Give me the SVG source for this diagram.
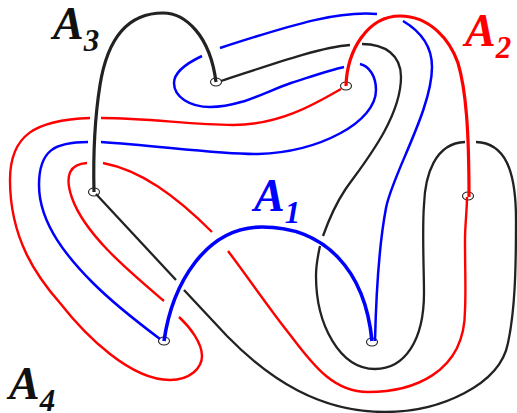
<svg xmlns="http://www.w3.org/2000/svg" width="517" height="413" viewBox="0 0 517 413">
<style>
.n{fill:#fff;stroke:#222;stroke-width:1.1}
path{fill:none;stroke-linecap:butt}
.k{stroke:#222;stroke-width:2.3}.r{stroke:#f00;stroke-width:2.4}.b{stroke:#00f;stroke-width:2.5}
.K{stroke:#222;stroke-width:3.2}.R{stroke:#f00;stroke-width:3.2}.B{stroke:#00f;stroke-width:3.6}
text{font-family:"Liberation Serif","Times New Roman",serif;font-style:italic;font-weight:700;font-size:46px}
tspan{font-size:31px}
.t{fill:#111}.u{fill:#f00}.v{fill:#00f}
</style>
<rect width="517" height="413" fill="#fff"/>
<g id="node-1"><ellipse class="n" cx="216" cy="82" rx="5.5" ry="4"/></g>
<g id="node-2"><ellipse class="n" cx="346" cy="86" rx="5.5" ry="4"/></g>
<g id="node-3"><ellipse class="n" cx="94" cy="192" rx="5.5" ry="4"/></g>
<g id="node-4"><ellipse class="n" cx="468" cy="196" rx="5.5" ry="4"/></g>
<g id="node-5"><ellipse class="n" cx="164" cy="341" rx="5.5" ry="4"/></g>
<g id="node-6"><ellipse class="n" cx="372" cy="342" rx="5.5" ry="4"/></g>
<g id="connectors">
<path class="b" d="M375 341C376 300 378 250 386 208C392 175 432 110 432 67C432 45 420 31 403 21"/>
<path class="b" d="M377 14C340 11 300 22 220 48"/>
<path class="b" d="M202 56C185 64 174 73 174 83C174 97 190 107 210 107C240 107 265 92 291 83C310 77 330 70 344 67"/>
<path class="b" d="M360 64C369 66 376 76 376 90C376 122 320 152 258 154C225 155 160 146 101 142"/>
<path class="b" d="M88 142C55 142 39 150 39 185C39 225 70 260 93 283C115 305 140 324 160 339"/>
<path class="r" d="M341 89C315 104 280 125 233 125C190 125 150 118 101 118"/>
<path class="r" d="M90 118C35 120 10 135 10 180C10 240 38 278 60 303C85 335 130 380 170 380C190 380 202 368 202 356C202 343 190 327 179 317"/>
<path class="r" d="M164 301C130 272 85 235 72 198C64 175 70 164 87 163"/>
<path class="r" d="M103 163C140 170 175 195 212 232"/>
<path class="r" d="M228 251C250 280 270 310 291 336C315 368 335 392 368 392C410 392 465 375 465 310C466 290 465 270 465 240C465 225 467 210 467 197"/>
<path class="k" d="M96 194L176 280"/>
<path class="k" d="M184 290L227 336C270 380 320 412 385 412C440 412 500 385 508 343C515 310 516 270 516 220C516 170 505 143 476 142"/>
<path class="k" d="M465 142C435 143 425 175 424 205C422 230 424 270 424 293C424 340 405 369 375 369C340 369 316 325 316 276C316 265 318 255 320 246"/>
<path class="k" d="M323 236C328 222 335 205 345 190C360 168 401 120 401 77C401 55 385 44 362 44"/>
<path class="k" d="M350 45C320 47 270 65 221 81"/>
<path class="K" d="M216 82C210 35 185 13 163 13C130 13 108 35 100 85C96 110 93 150 94 192"/>
<path class="R" d="M346 86C347 50 368 16 400 16C430 16 450 40 458 63C466 90 469 130 469 197"/>
<path class="B" d="M164 341C172 285 205 227 262 227C325 227 365 270 372 341"/>
</g>
<g id="labels">
<text class="t" x="53" y="39">A<tspan dy="12">3</tspan></text>
<text class="u" x="465" y="46">A<tspan dy="12">2</tspan></text>
<text class="v" x="254" y="211">A<tspan dy="12">1</tspan></text>
<text class="t" x="9" y="399">A<tspan dy="12">4</tspan></text>
</g>
</svg>
